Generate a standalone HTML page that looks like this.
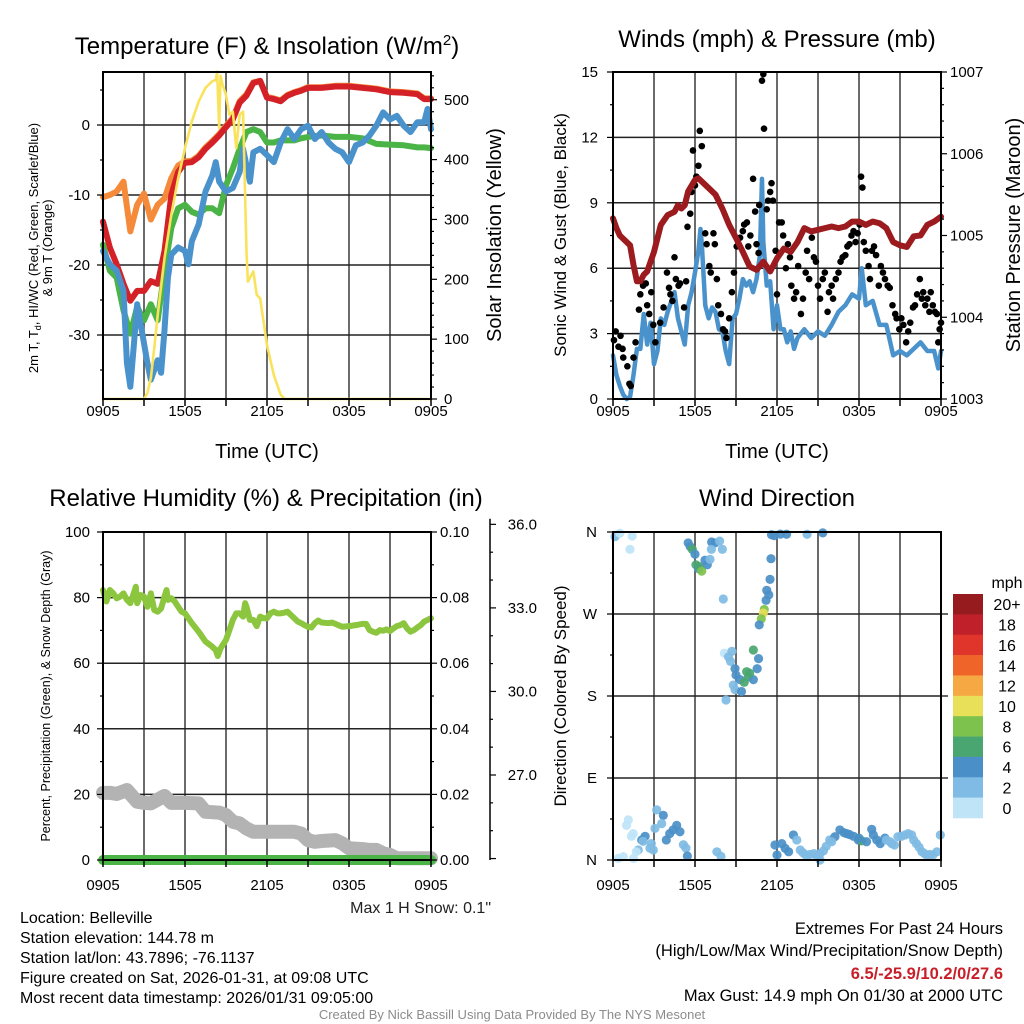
<!DOCTYPE html>
<html><head><meta charset="utf-8"><title>Mesonet Meteogram</title>
<style>
html,body{margin:0;padding:0;background:#fff;}
svg{display:block;font-family:"Liberation Sans",Arial,sans-serif;}
</style></head>
<body>
<svg id="chart" xmlns="http://www.w3.org/2000/svg" width="1024" height="1024" viewBox="0 0 1024 1024">
<rect x="0" y="0" width="1024" height="1024" fill="#fff"/>
<!-- titles -->
<text x="267" y="54" font-size="24" text-anchor="middle">Temperature (F) &amp; Insolation (W/m<tspan dy="-9" font-size="15">2</tspan><tspan dy="9">)</tspan></text>
<text x="777" y="47" font-size="24" text-anchor="middle">Winds (mph) &amp; Pressure (mb)</text>
<text x="266" y="506" font-size="24" text-anchor="middle">Relative Humidity (%) &amp; Precipitation (in)</text>
<text x="777" y="506" font-size="24" text-anchor="middle">Wind Direction</text>
<!-- axis titles -->
<text x="267" y="458" font-size="20" text-anchor="middle">Time (UTC)</text>
<text x="777" y="458" font-size="20" text-anchor="middle">Time (UTC)</text>
<text transform="translate(38,248) rotate(-90)" font-size="13" text-anchor="middle">2m T, T<tspan dy="3" font-size="9">d</tspan><tspan dy="-3">, HI/WC (Red, Green, Scarlet/Blue)</tspan></text>
<text transform="translate(52,248) rotate(-90)" font-size="13" text-anchor="middle">&amp; 9m T (Orange)</text>
<text transform="translate(501,235) rotate(-90)" font-size="20" text-anchor="middle">Solar Insolation (Yellow)</text>
<text transform="translate(566,235) rotate(-90)" font-size="17" text-anchor="middle">Sonic Wind &amp; Gust (Blue, Black)</text>
<text transform="translate(1020,235) rotate(-90)" font-size="20" text-anchor="middle">Station Pressure (Maroon)</text>
<text transform="translate(50,696) rotate(-90)" font-size="12.5" text-anchor="middle">Percent, Precipitation (Green), &amp; Snow Depth (Gray)</text>
<text transform="translate(566,696) rotate(-90)" font-size="17" text-anchor="middle">Direction (Colored By Speed)</text>
<text x="491" y="913" font-size="16" text-anchor="end" fill="#222">Max 1 H Snow: 0.1"</text>
<!-- footer info -->
<g font-size="16" fill="#000">
<text x="20" y="923">Location: Belleville</text>
<text x="20" y="943">Station elevation: 144.78 m</text>
<text x="20" y="963">Station lat/lon: 43.7896; -76.1137</text>
<text x="20" y="983">Figure created on Sat, 2026-01-31, at 09:08 UTC</text>
<text x="20" y="1003">Most recent data timestamp: 2026/01/31 09:05:00</text>
</g>
<g font-size="16.5" text-anchor="end">
<text x="1003" y="934">Extremes For Past 24 Hours</text>
<text x="1003" y="956">(High/Low/Max Wind/Precipitation/Snow Depth)</text>
<text x="1003" y="979" font-weight="bold" fill="#c8202a">6.5/-25.9/10.2/0/27.6</text>
<text x="1003" y="1001">Max Gust: 14.9 mph On 01/30 at 2000 UTC</text>
</g>
<text x="512" y="1019" font-size="13" text-anchor="middle" fill="#8c8c8c">Created By Nick Bassill Using Data Provided By The NYS Mesonet</text>
<text x="1007" y="588" font-size="16" text-anchor="middle">mph</text>
</svg>
<script>
// ===== Temperature panel data =====
const tempTimes = [0,0.5,1,1.5,2,2.5,3,3.5,4,4.5,5,5.5,6,6.5,7,7.5,8,8.5,9,9.5,10,10.5,11,11.5,12,12.5,13,13.5,14,14.5,15,16,17,18,19,20,21,22,23,23.5,24];
const tempRed = [-13.8,-17.5,-19.9,-22.7,-25.1,-23.7,-23.7,-22.3,-22.7,-18,-10,-6.7,-5.4,-5.3,-4.6,-3.4,-2.5,-1.5,-0.3,0.8,3.2,4.2,6.0,6.3,3.9,3.7,3.4,4.2,4.6,4.9,5.3,5.3,5.5,5.5,5.3,5.1,4.7,4.6,4.4,3.7,3.7];
const temp9mOrange = [-10.3,-10,-9.5,-8.1,-15.2,-11.4,-9.8,-13.5,-11.4,-10.5,-7.6,-5.8,-5.2,-5.1,-4.4,-3.2,-2.3,-1.3,-0.1,1.0,3.4,4.4,6.1,6.3,4.0,3.8,3.5,4.3,4.7,5.0,5.4,5.4,5.6,5.6,5.4,5.2,4.8,4.7,4.5,3.8,3.8];
const dewGreen = [-17.1,-20.8,-21.8,-26.5,-29.8,-26,-27.9,-25.6,-27.9,-20.8,-14.7,-11.9,-11.4,-12.4,-12.8,-11.9,-11.9,-12.6,-8.6,-6.2,-3.4,-1,-0.6,-1,-2.5,-2.5,-2.2,-2.2,-2.2,-1.9,-1.7,-1.5,-1.7,-1.7,-1.9,-2.7,-2.8,-2.9,-3.2,-3.2,-3.3];
const chillTimes = [0,0.5,1,1.5,1.75,2,2.25,2.5,3,3.25,3.5,4,4.25,4.5,4.75,5,5.5,6,6.25,6.5,7,7.5,8,8.25,8.5,9,9.5,10,10.25,10.5,10.75,11,11.5,12,12.5,13,13.5,14,14.5,15,15.5,16,16.5,17,17.5,18,18.5,19,19.5,20,20.5,21,21.5,22,22.5,23,23.5,23.75,24];
const chillBlue = [-18,-19.9,-20.8,-23.7,-34,-37.4,-31.6,-25.6,-31.2,-34,-36.4,-33.6,-35.4,-29.3,-21.8,-18.5,-17.5,-18,-19.9,-16.6,-14.2,-9.5,-7.2,-5.3,-8.1,-9.5,-9,-6.7,-3.4,-5.8,-8.1,-3.9,-3.4,-4.3,-5.3,-2.5,-0.6,-2,-0.6,-0.1,-2,-1,-2.5,-3.4,-3.9,-5.3,-2.9,-2.5,-1.5,-0.1,1.8,0.8,1.3,-0.1,-1,0.4,0.4,2.3,-0.6];
const solarTimes = [0,3,3.25,3.5,3.75,4,4.5,5,5.5,6,6.5,7,7.5,8,8.25,8.35,8.5,8.6,8.75,9,9.25,9.5,9.75,10,10.25,10.5,10.6,11,11.25,11.5,12,12.5,13,13.3,24];
const solarYellow = [0,0,10,35,85,140,235,308,369,419,464,497,520,531,533,547,453,540,525,508,475,480,419,475,480,246,196,213,174,168,90,40,7,0,0];
const tempTicks = [0,-10,-20,-30];
const solarTicks = [0,100,200,300,400,500];
const timeLabels = ["0905","1505","2105","0305","0905"];
// ===== Wind panel data =====
const presTimes = [0,0.25,0.5,1,1.25,1.5,1.75,2,2.25,2.5,3,3.5,4,4.5,4.75,5,5.25,5.5,6,6.25,6.5,7,7.5,8,8.5,9,9.5,10,10.5,11,11.5,12,12.5,13,13.5,14,14.5,15,15.5,16,16.5,17,17.5,18,18.5,19,19.5,20,20.5,21,21.5,22,22.5,23,23.5,24];
const pressure = [1005.21,1005.09,1005.0,1004.92,1004.88,1004.64,1004.44,1004.44,1004.52,1004.56,1004.8,1005.13,1005.25,1005.29,1005.37,1005.33,1005.37,1005.54,1005.68,1005.7,1005.66,1005.58,1005.5,1005.33,1005.13,1004.97,1004.8,1004.62,1004.58,1004.68,1004.56,1004.72,1004.84,1004.8,1004.92,1005.09,1005.05,1005.07,1005.09,1005.11,1005.09,1005.11,1005.17,1005.17,1005.13,1005.17,1005.15,1005.09,1004.92,1004.88,1004.86,1004.99,1005.0,1005.13,1005.17,1005.23];
const windTimes = [0,0.25,0.5,0.75,1,1.25,1.5,1.75,2,2.25,2.5,2.75,3,3.25,3.5,3.75,4,4.5,4.75,5,5.25,5.5,5.75,6,6.25,6.4,6.5,6.75,7,7.25,7.5,7.75,8,8.25,8.5,8.75,9,9.25,9.5,9.75,10,10.25,10.5,10.75,10.9,11,11.25,11.5,11.75,12,12.25,12.5,12.75,13,13.25,13.5,14,14.5,15,15.5,16,16.5,17,17.5,18,18.2,18.5,19,19.5,20,20.5,21,21.5,22,22.5,23,23.5,23.8,24];
const windSpeed = [2.0,1.1,0.6,0.2,0,0.1,1.1,2.3,2.3,3.9,2.5,3.5,1.6,2.2,3.7,3.4,4.0,4.9,3.7,3.1,2.5,4.3,4.9,5.8,6.8,7.8,7.1,4.3,3.7,4.2,4.0,3.2,3.1,2.2,1.6,3.7,3.9,4.6,5.5,5.2,5.4,4.9,5.5,6.6,10.1,7.2,5.2,5.4,3.2,4.3,3.2,3.2,2.6,3.1,2.3,2.8,3.2,2.8,3.1,2.9,3.4,4.0,4.3,4.8,4.6,6.0,4.3,4.5,3.4,3.4,2.0,2.2,2.0,2.3,2.6,2.2,2.2,1.4,2.2];
const gustTimes = [0.07,0.2,0.4,0.55,0.7,0.75,1.05,1.2,1.3,1.5,1.65,1.9,2.0,2.2,2.4,2.5,2.65,2.8,2.95,3.1,3.45,3.7,3.95,4.1,4.2,4.35,4.5,4.6,4.8,4.9,5.2,5.35,5.45,5.65,5.75,5.85,6.0,6.1,6.25,6.35,6.5,6.75,6.85,7.05,7.15,7.35,7.45,7.6,7.7,7.9,8.05,8.2,8.3,8.5,8.7,8.85,9.05,9.3,9.5,9.6,9.8,9.9,10.05,10.25,10.4,10.5,10.65,10.7,10.9,11.0,11.05,11.25,11.35,11.5,11.6,11.7,11.9,12.0,12.15,12.35,12.45,12.65,12.8,12.95,13.05,13.25,13.4,13.55,13.75,13.9,14.1,14.2,14.35,14.55,14.7,14.85,15.0,15.15,15.35,15.5,15.7,15.8,16.0,16.1,16.3,16.5,16.65,16.8,17.0,17.15,17.3,17.45,17.6,17.75,17.9,18.05,18.15,18.25,18.35,18.5,18.7,18.8,18.95,19.1,19.25,19.45,19.6,19.75,19.9,20.1,20.25,20.45,20.65,20.75,20.95,21.1,21.25,21.45,21.6,21.75,21.95,22.1,22.25,22.45,22.6,22.7,22.85,23.0,23.15,23.25,23.4,23.55,23.7,23.8,23.9,24.0];
const gustSpeed = [2.7,3.1,2.4,2.9,2.3,1.9,1.5,0.7,0.6,1.9,2.6,4.1,4.8,5.2,5.3,4.3,3.9,4.9,3.4,2.6,3.5,4.2,5.8,5.1,4.8,4.5,6.5,5.5,5.2,5.3,4.2,5.4,7.9,8.5,9.5,11.4,9.8,10.2,10.7,12.3,11.6,7.6,7.1,6.1,5.8,7.6,7.1,5.5,4.3,3.9,3.2,3.1,2.8,3.7,4.9,5.8,7.0,7.4,7.7,8.0,8.1,7.0,7.5,10.1,8.6,7.1,6.7,8.9,14.6,14.9,12.4,8.7,9.1,9.5,9.9,9.1,6.8,4.8,8.1,8.1,7.5,6.0,7.1,6.5,5.2,4.6,4.9,6.1,3.9,4.6,5.8,6.8,5.5,7.4,6.5,6.3,5.2,4.6,5.5,5.8,4.0,4.9,5.2,4.6,5.5,5.8,6.3,6.5,6.6,7.0,7.1,7.5,7.7,7.2,7.6,8.0,10.2,9.7,7.2,6.8,6.1,5.5,6.8,7.0,6.6,5.2,6.1,5.8,5.5,5.2,5.1,4.3,3.9,3.7,3.2,3.7,3.4,2.6,3.1,3.5,4.2,4.3,4.8,5.5,4.6,4.9,4.3,4.6,4.0,4.9,4.3,4.0,3.9,2.6,3.2,3.5];
const mphTicks = [0,3,6,9,12,15];
const presTicks = [1003,1004,1005,1006,1007];
// ===== Humidity panel data =====
const rhTimes = [0,0.25,0.5,0.75,1,1.25,1.5,1.75,2,2.25,2.4,2.5,2.75,3,3.25,3.5,3.75,4,4.25,4.5,4.65,4.75,5,5.25,5.5,5.75,6,6.5,7,7.5,8,8.25,8.4,8.6,8.75,9,9.25,9.5,9.75,10,10.25,10.4,10.5,10.75,11,11.25,11.5,11.75,12,12.25,12.5,12.75,13,13.25,13.5,13.75,14,14.25,14.5,14.75,15,15.25,15.5,15.75,16,16.5,16.75,17,17.5,18,18.5,19,19.25,19.5,19.75,20,20.25,20.5,20.75,21,21.25,21.5,21.75,22,22.25,22.5,22.75,23,23.25,23.5,23.75,24];
const rhValues = [82.3,78.8,82.3,81.3,79.8,80.3,81.3,79.3,78.3,81.3,83.3,78.3,80.8,80.3,77.2,81.3,76.2,75.7,76.7,80.3,82.3,79.3,79.8,78.8,77.2,75.7,75.2,72.2,69.6,66.6,65.0,64.0,62.2,64.5,65.5,67.1,70.1,73.2,75.2,75.2,74.2,78.3,77.2,73.2,73.2,71.3,74.2,73.7,73.7,75.2,75.7,75.2,75.2,75.4,75.7,74.7,73.7,72.7,72.2,71.6,71.1,70.9,72.2,73.0,72.4,72.2,72.4,72.0,71.1,71.3,71.6,72.0,72.0,70.1,69.6,69.3,70.1,69.9,70.3,69.8,70.6,71.3,71.6,72.2,70.6,69.6,70.1,70.9,71.6,72.7,73.2,73.7];
const snowTimes = [0,0.5,1,1.75,2.5,3,3.5,4.5,5,6,7,7.5,8.5,9,9.5,10,10.5,11,12,13,14,14.5,15,15.5,16,17,17.5,18,19,19.5,20,20.5,21,21.5,22,24];
const snowDepth = [26.36,26.36,26.32,26.46,26.04,26.0,25.98,26.25,26.0,26.0,25.98,25.68,25.65,25.56,25.32,25.26,25.08,24.96,24.96,24.96,24.96,24.9,24.66,24.6,24.63,24.66,24.55,24.37,24.34,24.31,24.31,24.19,24.13,24.01,24.01,24.01];
const precipTimes = [0,24];
const precipValues = [0,0];
const rhTicks = [0,20,40,60,80,100];
const precipTicks = ["0.00","0.02","0.04","0.06","0.08","0.10"];
const snowTicks = ["27.0","30.0","33.0","36.0"];
// ===== Direction panel data =====
const dirTimes = [0.15,0.5,1.4,1.24,5.5,5.65,5.8,6.0,6.07,6.25,6.3,6.49,6.73,6.9,7.1,7.22,7.47,7.8,8.0,7.2,8.07,11.6,11.8,12.25,12.7,14.2,15.35,11.56,11.49,11.25,11.4,11.2,11.07,11.0,10.85,10.7,8.15,8.45,8.7,8.6,8.93,9.0,9.3,9.78,9.9,9.6,10.27,10.65,10.55,10.27,8.8,8.93,9.4,8.27,10.0,
0.39,0.75,1.5,1.12,0.99,1.48,1.35,1.85,1.7,2.1,2.35,2.2,2.7,2.8,2.95,3.2,3.68,3.07,3.56,3.9,4.15,4.66,4.9,5.15,5.34,5.44,4.4,7.6,7.9,
11.85,12,12.35,12.6,12.85,13.2,13.45,13.7,14.1,14.7,15.15,15.15,15.6,15.85,16.24,16.6,17.1,17.6,17.95,18.2,18.55,18.93,19.05,19.3,19.55,19.9,20.27,20.6,20.85,21.37,21.85,22.2,22.6,22.95,23.4,23.7,23.95,
13.9,14.4,14.9,15.4,16.0,16.9,17.3,18.0,20.0,20.4,21.1,21.6,22.0,22.4,22.8,23.2];
const dirDegrees = [355,358.6,355.6,341,348,344,341,335.6,324,320,322,317,329,324,330,349,348,350,341,341,286.5,357,356,357.7,357.5,357.5,359,330.7,308,296,291,285,275,271,264.6,258,227,223,229,218,210,203,198,206.7,201,195,230.5,221,210,198,192,187,185,175.6,205,
1.8,3.7,1.8,44,38,29,26,11,9,22,26,20.6,13,18,11,55,49,34.7,40,22,29,38,31,16.8,13,4.4,33,9,4,
16.5,5.5,18,12.8,9,27.5,22,11,5.5,7,0,7,15,22,25.6,33,29,26,22,21,20,33.7,27.5,22,18,24,20,16.5,25.6,27.5,27.5,18,9,5.5,5.5,9,27.5,
8,6,5,10,20,30,28,24,22,18,26,29,22,14,7,6];
const dirSpeeds = [3,1,1,1,5,5,7,5,7,5,7,9,5,5,3,5,5,3,3,3,3,5,5,5,5,3,5,5,5,5,5,5,9,10.5,9,5,1,3,3,3,5,5,5,7,7,7,7,5,5,5,3,3,5,3,7,
1,1,1,1,1,1,1,3,1,5,5,3,3,3,3,3,5,3,3,5,5,5,5,3,3,5,5,3,3,
5,5,5,5,5,5,3,3,3,3,3,3,3,3,5,5,5,5,5,7,5,5,5,5,5,5,3,3,3,3,3,3,3,3,3,3,3,
3,3,3,3,3,5,5,5,3,3,3,3,3,3,3,3];
const dirLabels = ["N","E","S","W","N"];
const speedBinLabels = ["20+","18","16","14","12","10","8","6","4","2","0"];
const speedBinColors = ["#951b1f","#c0202a","#e0352b","#ef6429","#f6a843","#e7e058","#7dc24c","#4aa670","#4a8fc7","#7fbbe4","#bfe4f8"];

// ===== rendering =====
const NS = 'http://www.w3.org/2000/svg';
const svg = document.getElementById('chart');
function add(parent, tag, attrs){ const e=document.createElementNS(NS,tag); for(const k in attrs) e.setAttribute(k, attrs[k]); parent.appendChild(e); return e; }
function tag(e, n){
  
  
  return e;
}
function pathD(ts, vs, fx, fy){ let d=''; for(let i=0;i<ts.length;i++){ d += (i?'L':'M') + fx(ts[i]).toFixed(2) + ',' + fy(vs[i]).toFixed(2); } return d; }

// scales
const hx1 = h => 103 + h*328/24;
const hx2 = h => 613 + h*328/24;
const yT = v => 125 - 7*v;
const yW = v => 399 - v*0.5985;
const yMph = v => 399 - v*327/15;
const yPr = p => 399 - (p-1003)*327/4;
const yRH = v => 860 - v*3.28;
const yPc = v => 860 - v*3280;
const ySn = v => 775 - (v-27)*27.85;
const yDir = d => 860 - d*328/360;

function speedColor(s){ let i = Math.min(10, Math.floor(s/2)); return speedBinColors[10-i]; }

function grid(g, x0, x1, y0, y1, hys){
  for(let h=3; h<24; h+=3){
    const ln = add(g,'line',{x1:(x0+h*(x1-x0)/24),x2:(x0+h*(x1-x0)/24),y1:y0,y2:y1,stroke:'#3a3a3a','stroke-width':1.5});
    tag(ln,'vertical-gridline');
  }
  hys.forEach(y=>{
    const ln = add(g,'line',{x1:x0,x2:x1,y1:y,y2:y,stroke:'#222','stroke-width':1.5});
    tag(ln,'horizontal-gridline');
  });
}
function frame(g, x0, x1, y0, y1, name){
  const r = add(g,'rect',{x:x0,y:y0,width:x1-x0,height:y1-y0,fill:'none',stroke:'#000','stroke-width':2});
  tag(r, name);
}
function xTicks(g, x0, x1, y1, labY){
  for(let h=0; h<=24; h+=3){
    const x = x0+h*(x1-x0)/24;
    const t = add(g,'line',{x1:x,x2:x,y1:y1,y2:y1+7,stroke:'#000','stroke-width':1.5});
    tag(t,'x-tick');
  }
  timeLabels.forEach((lab,i)=>{
    const t = add(g,'text',{x:x0+i*6*(x1-x0)/24,y:labY,'font-size':15,'text-anchor':'middle'});
    t.textContent = lab;
    tag(t,'x-tick-label');
  });
}
function yTick(g, x, y, len, name){
  const t = add(g,'line',{x1:x,x2:x+len,y1:y,y2:y,stroke:'#000','stroke-width':1.2});
  tag(t, name);
}
function yLabel(g, x, y, txt, anchor, size, name){
  const t = add(g,'text',{x:x,y:y+5,'font-size':size||15,'text-anchor':anchor});
  t.textContent = txt;
  tag(t, name);
}
function polyline(g, ts, vs, fx, fy, color, w, name){
  const p = add(g,'path',{d:pathD(ts,vs,fx,fy),fill:'none',stroke:color,'stroke-width':w,'stroke-linejoin':'round','stroke-linecap':'round'});
  tag(p, name);
  return p;
}

// ---- Panel 1 ----
const g1 = add(svg,'g',{});
tag(g1,'temperature-panel');
grid(g1,103,431,72,399,tempTicks.map(yT));
polyline(g1,tempTimes,temp9mOrange,hx1,yT,'#f58a3a',6,'temp-9m-orange-line');
polyline(g1,tempTimes,tempRed,hx1,yT,'#d42027',6,'temp-2m-red-line');
polyline(g1,tempTimes,dewGreen,hx1,yT,'#4bb447',6,'dewpoint-green-line');
polyline(g1,chillTimes,chillBlue,hx1,yT,'#4a92cb',6,'windchill-blue-line');
polyline(g1,solarTimes,solarYellow,hx1,yW,'#fae35c',2.6,'solar-yellow-line');
frame(g1,103,431,72,399,'temperature-plot-frame');
xTicks(g1,103,431,399,416);
for(let v=-35; v<=5; v+=5){ yTick(g1,103,yT(v),v%10===0?-6:-3,'temp-y-tick'); }
tempTicks.forEach(v=>yLabel(g1,90,yT(v),String(v),'end',15,'temp-y-tick-label'));
for(let v=0; v<=540; v+=20){ yTick(g1,431,yW(v),v%100===0?6:3,'solar-y-tick'); }
solarTicks.forEach(v=>yLabel(g1,444,yW(v),String(v),'start',15,'solar-y-tick-label'));

// ---- Panel 2 ----
const g2 = add(svg,'g',{});
tag(g2,'wind-panel');
grid(g2,613,941,72,399,[3,6,9,12].map(yMph));
polyline(g2,windTimes,windSpeed,hx2,yMph,'#4a92cb',4.5,'wind-speed-blue-line');
for(let i=0;i<gustTimes.length;i++){
  const c = add(g2,'circle',{cx:hx2(gustTimes[i]).toFixed(2),cy:yMph(gustSpeed[i]).toFixed(2),r:3.3,fill:'#000'});
  
  
}
polyline(g2,presTimes,pressure,hx2,yPr,'#9c1b1e',6,'pressure-maroon-line');
frame(g2,613,941,72,399,'wind-plot-frame');
xTicks(g2,613,941,399,416);
for(let v=0; v<=15; v+=1.5){ yTick(g2,613,yMph(v),v%3===0?-6:-3,'mph-y-tick'); }
mphTicks.forEach(v=>yLabel(g2,598,yMph(v),String(v),'end',15,'mph-y-tick-label'));
for(let p=1003; p<=1007.001; p+=0.2){ yTick(g2,941,yPr(p),Math.abs(p-Math.round(p))<0.01?6:3,'pressure-y-tick'); }
presTicks.forEach(v=>yLabel(g2,950,yPr(v),String(v),'start',15,'pressure-y-tick-label'));

// ---- Panel 3 ----
const g3 = add(svg,'g',{});
tag(g3,'humidity-panel');
grid(g3,103,431,532,860,[20,40,60,80].map(yRH));
polyline(g3,snowTimes,snowDepth,hx1,ySn,'#b3b3b3',14,'snow-depth-gray-band');
polyline(g3,rhTimes,rhValues,hx1,yRH,'#8cc63f',6,'humidity-green-line');
polyline(g3,precipTimes,precipValues,hx1,yPc,'#4bb447',10,'precipitation-green-line');
frame(g3,103,431,532,860,'humidity-plot-frame');
xTicks(g3,103,431,860,890);
for(let v=0; v<=100; v+=10){ yTick(g3,103,yRH(v),v%20===0?-6:-3,'rh-y-tick'); }
rhTicks.forEach(v=>yLabel(g3,90,yRH(v),String(v),'end',15,'rh-y-tick-label'));
for(let v=0; v<=0.1001; v+=0.01){ yTick(g3,431,yPc(v),Math.round(v*100)%2===0?6:3,'precip-y-tick'); }
precipTicks.forEach(v=>yLabel(g3,440,yPc(parseFloat(v)),v,'start',15,'precip-y-tick-label'));
const snowSpine = add(g3,'line',{x1:490,x2:490,y1:ySn(36.2),y2:860,stroke:'#000','stroke-width':1.5});
tag(snowSpine,'snow-axis-spine');
for(let v=24; v<=36; v+=1){ yTick(g3,490,ySn(v),v%3===0?6:3,'snow-y-tick'); }
snowTicks.forEach(v=>yLabel(g3,537,ySn(parseFloat(v)),v,'end',15,'snow-y-tick-label'));

// ---- Panel 4 ----
const g4 = add(svg,'g',{});
tag(g4,'direction-panel');
grid(g4,613,941,532,860,[90,180,270].map(yDir));
for(let i=0;i<dirTimes.length;i++){
  const c = add(g4,'circle',{cx:hx2(dirTimes[i]).toFixed(2),cy:yDir(dirDegrees[i]).toFixed(2),r:4.6,fill:speedColor(dirSpeeds[i]),'fill-opacity':0.92});
  
  
}
frame(g4,613,941,532,860,'direction-plot-frame');
xTicks(g4,613,941,860,890);
for(let d=0; d<=360; d+=45){ yTick(g4,613,yDir(d),d%90===0?-6:-3,'direction-y-tick'); }
for(let d=90; d<=270; d+=90){ yTick(g4,941,yDir(d),7,'direction-right-tick'); }
dirLabels.forEach((lab,i)=>yLabel(g4,597,yDir(i*90),lab,'end',15,'direction-y-tick-label'));
// colorbar
const cb = add(svg,'g',{});
tag(cb,'speed-colorbar');
const boxH = 224/11;
speedBinColors.forEach((col,i)=>{
  const r = add(cb,'rect',{x:953,y:(594+i*boxH).toFixed(2),width:30,height:(boxH+0.3).toFixed(2),fill:col});
  
  
  const t = add(cb,'text',{x:1007,y:(594+i*boxH+boxH/2+6).toFixed(2),'font-size':16,'text-anchor':'middle'});
  t.textContent = speedBinLabels[i];
  
  
});
</script>
</body></html>
